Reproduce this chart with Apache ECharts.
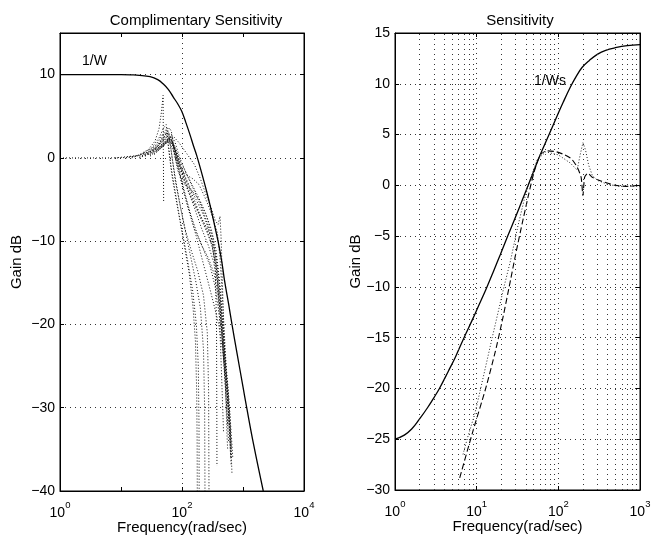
<!DOCTYPE html>
<html>
<head>
<meta charset="utf-8">
<script src="https://cdn.jsdelivr.net/npm/echarts@6/dist/echarts.min.js"></script>
<style>
html,body{margin:0;padding:0;background:#fff;}
#chart{width:659px;height:535px;}
</style>
</head>
<body>
<div id="chart"></div>
<script>
// ---------------- data ----------------
// Left: Complimentary Sensitivity  [frequency rad/s, gain dB]
const compWeight = [[1,10],[10,10],[15,9.97],[20,9.92],[30,9.75],[40,9.4],[49,8.9],[60,8.2],[72,7.3],[85,6.5],[99,5.6],[115,4.3],[135,2.8],[155,1.4],[174,0.3],[210,-1.8],[253,-4.0],[300,-6.2],[347,-8.3],[390,-10],[450,-12.5],[500,-14.8],[580,-17.5],[660,-20],[800,-23.5],[1000,-27.5],[1150,-30],[1500,-34.5],[2150,-40]];
const compCurveA = [[1,0],[4,0],[10,0],[18,0.2],[28,1],[36,2],[42,3.5],[46,5.5],[49,7.5],[49.5,1],[50,-5.3]];
const compCurveB = [[8,0],[20,0.3],[32,1.2],[42,2.4],[50,3.6],[55,4],[60,1.5],[66,-1],[75,-3.5],[88,-6.5],[105,-9.5],[125,-12.5],[150,-16],[172,-20],[185,-25],[190,-32],[191,-40]];
const compCurveC = [[12,0],[25,0.5],[38,1.6],[48,2.8],[57,3.6],[63,2.2],[70,-0.3],[80,-3],[95,-6],[115,-9],[140,-12],[170,-15],[200,-18],[225,-23],[235,-30],[238,-40]];
const compCurveD = [[15,0],[30,0.8],[45,2],[56,3],[61,2.8],[68,0.3],[78,-2.8],[92,-5.5],[112,-8.5],[140,-11],[180,-13.5],[225,-16.5],[260,-21],[273,-28],[277,-40]];
const compCurveE = [[20,0.1],[38,1.2],[52,2.6],[62,3.6],[67,3.2],[73,1],[85,-1.5],[105,-3],[140,-3.8],[190,-5],[250,-7],[320,-9.5],[370,-13],[410,-19],[440,-25],[465,-30],[480,-33]];
const compCurveF = [[25,0.2],[45,1.8],[60,3],[68,2.8],[76,1],[90,-1],[115,-2],[150,-2.5],[190,-3.2],[230,-4.5],[280,-6],[330,-7.5],[380,-9],[420,-12],[470,-18],[520,-24],[570,-30],[610,-34],[630,-36]];
const compCurveG = [[30,0.4],[48,2],[62,2.8],[72,1.5],[85,-0.5],[105,-2.5],[135,-4.5],[170,-6],[210,-7.5],[260,-9],[310,-10.5],[360,-13],[410,-17],[470,-23],[520,-28],[560,-32],[580,-34]];
const compCurveH = [[30,0.2],[50,1.6],[68,2.2],[80,0],[98,-3],[125,-6],[160,-8.5],[210,-10.5],[270,-12],[340,-14],[400,-17],[460,-21],[520,-25],[570,-28],[610,-31],[640,-35]];
const compCurveI = [[20,0],[42,1],[58,2],[70,1.2],[88,-1.5],[112,-4.5],[145,-7.5],[180,-10],[220,-12.5],[270,-15],[330,-17.5],[400,-20],[460,-23],[530,-27],[590,-31],[630,-34],[660,-38]];
const compCurveJ = [[35,0.5],[55,2],[72,2.6],[90,1.8],[120,0.5],[160,-0.8],[200,-2.5],[250,-4.5],[300,-6],[350,-7.5],[390,-8],[420,-7],[440,-10],[460,-15],[490,-22],[520,-28],[545,-33],[560,-35]];
const compCurveK = [[25,0.3],[40,1.4],[50,2.8],[56,3.1],[61,0.8],[68,-2],[80,-5],[95,-8],[112,-11],[132,-14],[152,-18],[166,-22],[174,-28],[177,-34],[178,-40]];
const compCurveL = [[35,0.4],[52,1.6],[66,2.6],[76,2],[92,0],[120,-2],[160,-4],[210,-6],[260,-8],[310,-10],[350,-13],[368,-20],[372,-30],[374,-37]];
const compCurveM = [[30,0.3],[50,1.8],[64,2.5],[75,1.2],[92,-1],[120,-3.5],[160,-6],[210,-8.5],[270,-10.5],[330,-12.5],[380,-15],[430,-19],[480,-24],[530,-29],[560,-32]];
const compCurveN = [[28,0.4],[46,1.5],[60,2.4],[70,1.8],[84,-0.5],[105,-3.5],[135,-6.5],[175,-9],[225,-11],[290,-13],[350,-15.5],[420,-19.5],[490,-24],[560,-28],[620,-33],[650,-36]];
const compCurveO = [[22,0.2],[44,1.3],[62,2.3],[74,1.4],[95,-1],[125,-3],[170,-5],[230,-7],[290,-9],[340,-11],[390,-14],[440,-18],[500,-23],[560,-27],[600,-30],[640,-33],[680,-36]];
const compCurveP = [[40,0.8],[60,2],[75,1.5],[95,-0.5],[130,-2.5],[180,-4.5],[240,-6.5],[300,-8.5],[360,-11],[410,-15],[460,-20],[510,-25],[560,-29],[600,-32],[630,-35]];
const compCurveQ = [[40,1],[58,2.6],[70,2],[85,0],[110,-2.5],[150,-5],[200,-7],[260,-8.5],[320,-10],[380,-12.5],[430,-16],[480,-21],[530,-26],[580,-30],[620,-33]];
const compCurveR = [[45,1.2],[60,2.2],[78,1],[100,-1.5],[140,-4],[190,-6.5],[250,-8.5],[310,-10.5],[370,-13.5],[420,-17],[470,-22],[520,-26.5],[570,-30],[600,-33],[640,-37]];

// Right: Sensitivity
const sensWeight = [[1,-25],[1.3,-24.6],[1.6,-24.0],[2,-23.0],[2.5,-21.9],[3,-20.9],[3.5,-20.0],[4.5,-18.3],[5.5,-16.9],[7,-15.0],[8.9,-13.2],[10.5,-11.9],[12.9,-10.3],[16,-8.5],[19.5,-6.8],[24,-5.0],[30,-3.1],[36,-1.5],[42.7,0],[50,1.4],[60,3],[77,5],[95,6.7],[115,8.2],[141,9.7],[165,10.7],[195,11.6],[240,12.3],[300,12.9],[380,13.3],[500,13.55],[700,13.75],[1000,13.85]];
const sensDashed = [[6.2,-28.8],[9,-24.2],[12.9,-20],[17,-16.3],[21,-13],[25,-10],[30,-6.8],[36,-3.8],[43,-1],[50,1.2],[60,3],[72,3.4],[95,3.3],[120,3],[145,2.6],[170,1.8],[190,0.8],[200,-1],[210,0.8],[230,1.2],[260,0.8],[340,0.4],[500,0],[700,-0.1],[1000,0]];
const sensDotted = [[6.8,-26.5],[7.7,-24.9],[9.5,-22.5],[11.2,-20],[15.5,-15],[21.6,-10],[26,-7.4],[32,-4],[38,-1.5],[45,0.5],[55,2.5],[70,3.3],[100,3],[140,2.2],[170,1.5],[185,3],[200,4.2],[215,3.5],[235,2],[260,1],[300,0.5],[400,0.1],[550,-0.1],[1000,-0.1]];

// grid / tick values
const leftYTicks = [-40,-30,-20,-10,0,10];
const rightYTicks = [-30,-25,-20,-15,-10,-5,0,5,10,15];
const rightMinorFreqs = [2,3,4,5,6,7,8,9,20,30,40,50,60,70,80,90,200,300,400,500,600,700,800,900];

// ---------------- chart ----------------
const FONT = '"Liberation Sans", Arial, Helvetica, sans-serif';
const chart = echarts.init(document.getElementById('chart'), null, {renderer:'canvas'});
const gridDot = {color:'#333', width:1, type:[1,4]};
const minus = s => String(s).replace('-', '\u2212');
const powLabel = v => { const e = Math.round(Math.log10(v)); return '{b|10}{e|' + e + '}'; };
const powRich = {
  b:{fontSize:14, fontFamily:FONT, color:'#000', lineHeight:20, verticalAlign:'bottom'},
  e:{fontSize:9.5, fontFamily:FONT, color:'#000', verticalAlign:'top', lineHeight:10}
};
const tickIn = {show:true, inside:true, length:4, lineStyle:{color:'#000'}};
const axLine = {show:true, onZero:false, lineStyle:{color:'#000', width:1}};
const nameStyle = {fontFamily:FONT, fontSize:15, color:'#000'};

const compCurves = [compCurveA,compCurveB,compCurveC,compCurveD,compCurveE,compCurveF,compCurveG,compCurveH,compCurveI,compCurveJ,compCurveK,compCurveL,compCurveM,compCurveN,compCurveO,compCurveP,compCurveQ,compCurveR];

const series = [];
compCurves.forEach(c => series.push({
  type:'line', xAxisIndex:0, yAxisIndex:0, data:c, showSymbol:false, symbol:'none',
  lineStyle:{color:'#111', width:1, type:[1,2]}, silent:true, z:3
}));
series.push({type:'line', xAxisIndex:0, yAxisIndex:0, data:compWeight, symbol:'none', smooth:0.4,
  lineStyle:{color:'#000', width:1.3}, z:4, silent:true});

series.push({type:'line', xAxisIndex:3, yAxisIndex:2, data:sensWeight, symbol:'none', smooth:0.4,
  lineStyle:{color:'#000', width:1.3}, z:4, silent:true,
  markLine:{silent:true, symbol:['none','none'], label:{show:false}, animation:false,
    lineStyle:{color:'#333', width:1, type:[1,4]},
    data: rightMinorFreqs.map(f => ({xAxis:f}))}
});
series.push({type:'line', xAxisIndex:3, yAxisIndex:2, data:sensDashed, symbol:'none', smooth:0.2,
  lineStyle:{color:'#000', width:1.1, type:[6,3]}, z:4, silent:true});
series.push({type:'line', xAxisIndex:3, yAxisIndex:2, data:sensDotted, symbol:'none',
  lineStyle:{color:'#222', width:1, type:[1,2]}, z:4, silent:true});

const option = {
  animation:false,
  backgroundColor:'#fff',
  title:[
    {text:'Complimentary Sensitivity', left:191, top:8, textAlign:'center',
     textStyle:{fontFamily:FONT, fontSize:15, fontWeight:'normal', color:'#000'}},
    {text:'Sensitivity', left:515, top:8, textAlign:'center',
     textStyle:{fontFamily:FONT, fontSize:15, fontWeight:'normal', color:'#000'}}
  ],
  grid:[
    {left:60, top:33, width:244, height:458, show:true, borderColor:'#000', borderWidth:1, backgroundColor:'#fff', outerBoundsMode:'none', containLabel:false},
    {left:395, top:33, width:245, height:457, show:true, borderColor:'#000', borderWidth:1, backgroundColor:'#fff', outerBoundsMode:'none', containLabel:false}
  ],
  xAxis:[
    {gridIndex:0, type:'log', logBase:10, min:1, max:10000, interval:1, position:'bottom',
     axisLine:axLine, axisTick:tickIn, axisLabel:{show:false}, splitLine:{show:false}},
    {gridIndex:0, type:'log', logBase:10, min:1, max:10000, interval:2, position:'bottom',
     axisLine:{show:false, onZero:false}, axisTick:{show:false},
     axisLabel:{show:true, formatter:powLabel, rich:powRich, margin:9},
     splitLine:{show:true, lineStyle:gridDot},
     name:'Frequency(rad/sec)', nameLocation:'middle', nameGap:29, nameMoveOverlap:false,
     nameTextStyle:nameStyle},
    {gridIndex:0, type:'log', logBase:10, min:1, max:10000, interval:1, position:'top',
     axisLine:axLine, axisTick:tickIn, axisLabel:{show:false}, splitLine:{show:false}},
    {gridIndex:1, type:'log', logBase:10, min:1, max:1000, interval:1, position:'bottom',
     axisLine:axLine, axisTick:tickIn,
     axisLabel:{show:true, formatter:powLabel, rich:powRich, margin:9},
     splitLine:{show:true, lineStyle:gridDot},
     name:'Frequency(rad/sec)', nameLocation:'middle', nameGap:29, nameMoveOverlap:false,
     nameTextStyle:nameStyle},
    {gridIndex:1, type:'log', logBase:10, min:1, max:1000, interval:1, position:'top',
     axisLine:axLine, axisTick:tickIn, axisLabel:{show:false}, splitLine:{show:false}}
  ],
  yAxis:[
    {gridIndex:0, type:'value', min:-40, max:15, interval:10, position:'left',
     axisLine:axLine, axisTick:tickIn,
     axisLabel:{show:true, margin:5, fontFamily:FONT, fontSize:14, color:'#000',
       formatter: v => leftYTicks.indexOf(v) >= 0 ? minus(v) : ''},
     splitLine:{show:true, lineStyle:gridDot},
     name:'Gain dB', nameLocation:'middle', nameGap:36, nameRotate:90, nameMoveOverlap:false,
     nameTextStyle:nameStyle},
    {gridIndex:0, type:'value', min:-40, max:15, interval:10, position:'right',
     axisLine:axLine, axisTick:tickIn, axisLabel:{show:false}, splitLine:{show:false}},
    {gridIndex:1, type:'value', min:-30, max:15, interval:5, position:'left',
     axisLine:axLine, axisTick:tickIn,
     axisLabel:{show:true, margin:5, fontFamily:FONT, fontSize:14, color:'#000',
       formatter: v => rightYTicks.indexOf(v) >= 0 ? minus(v) : ''},
     splitLine:{show:true, lineStyle:gridDot},
     name:'Gain dB', nameLocation:'middle', nameGap:32, nameRotate:90, nameMoveOverlap:false,
     nameTextStyle:nameStyle},
    {gridIndex:1, type:'value', min:-30, max:15, interval:5, position:'right',
     axisLine:axLine, axisTick:tickIn, axisLabel:{show:false}, splitLine:{show:false}}
  ],
  graphic:[
    {type:'text', left:82, top:54, style:{text:'1/W', fontFamily:FONT, fontSize:14, fill:'#000'}, z:10},
    {type:'text', left:534, top:74, style:{text:'1/Ws', fontFamily:FONT, fontSize:14, fill:'#000'}, z:10}
  ],
  series: series
};
chart.setOption(option);
</script>
</body>
</html>
